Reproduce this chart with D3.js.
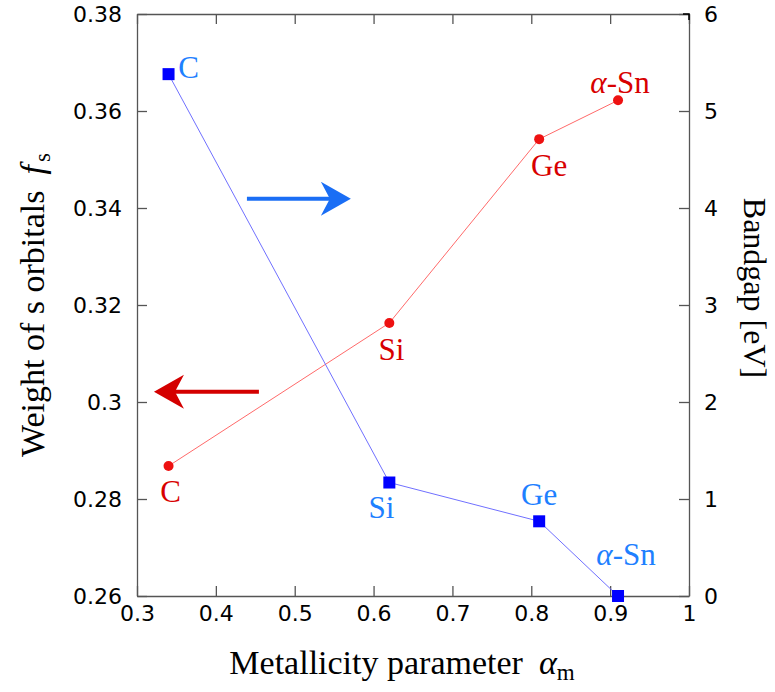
<!DOCTYPE html>
<meta charset="utf-8" />
<html>
<style>
  body { margin: 0; background: #fff; }
  .tick text { font-family: "DejaVu Sans", sans-serif; font-size: 22px; fill: #000; }
  .axis path, .axis line { stroke: #555; stroke-width: 1.3px; }
  .lbl { font-family: "Liberation Serif", "Times New Roman", serif; }
</style>
<body>
<svg width="775" height="692"></svg>
<script src="https://d3js.org/d3.v7.min.js"></script>
<script>
  // materials and their metallicity parameter
  var names = ["C", "Si", "Ge", "\u03b1-Sn"];
  var alphaM = [0.34, 0.62, 0.81, 0.91];
  // weight of s orbitals (left axis)
  var fs = [0.2868, 0.3163, 0.3542, 0.3622];
  // bandgap in eV (right axis)
  var gap = [5.38, 1.17, 0.77, 0.0];

  var xTicks = [0.3, 0.4, 0.5, 0.6, 0.7, 0.8, 0.9, 1];
  var yLeftTicks = [0.26, 0.28, 0.3, 0.32, 0.34, 0.36, 0.38];
  var yRightTicks = [0, 1, 2, 3, 4, 5, 6];

  var svg = d3.select("svg");
  var pL = 137, pR = 689, pT = 14, pB = 596;

  var x = d3.scaleLinear().domain([0.3, 1]).range([pL, pR]);
  var yL = d3.scaleLinear().domain([0.26, 0.38]).range([pB, pT]);
  var yR = d3.scaleLinear().domain([0, 6]).range([pB, pT]);

  // axes, ticks pointing inward
  svg.append("g").attr("class", "axis")
    .attr("transform", "translate(0," + pB + ")")
    .call(d3.axisBottom(x).tickValues(xTicks).tickSize(-10).tickSizeOuter(0).tickPadding(9)
      .tickFormat(function (d) { return d === 1 ? "1" : d3.format(".1f")(d); }));
  svg.append("g").attr("class", "axis")
    .attr("transform", "translate(0," + pT + ")")
    .call(d3.axisTop(x).tickValues(xTicks).tickSize(-10).tickSizeOuter(0).tickFormat(""));
  svg.append("g").attr("class", "axis")
    .attr("transform", "translate(" + pL + ",0)")
    .call(d3.axisLeft(yL).tickValues(yLeftTicks).tickSize(-10).tickSizeOuter(0).tickPadding(15)
      .tickFormat(function (d) { return d === 0.3 ? "0.3" : d3.format(".2f")(d); }));
  svg.append("g").attr("class", "axis")
    .attr("transform", "translate(" + pR + ",0)")
    .call(d3.axisRight(yR).tickValues(yRightTicks).tickSize(-10).tickSizeOuter(0).tickPadding(15)
      .tickFormat(d3.format("d")));
  // dark corner top-right
  svg.append("path").attr("d", "M" + (pR - 6) + "," + pT + "H" + pR + "V" + (pT + 6))
    .attr("fill", "none").attr("stroke", "#000").attr("stroke-width", 1.5);

  // fs series (red)
  var redLine = d3.line().x(function (d, i) { return x(alphaM[i]); }).y(function (d) { return yL(d); });
  svg.append("path").attr("d", redLine(fs)).attr("fill", "none").attr("stroke", "#ff6a6a").attr("stroke-width", 1);
  svg.selectAll(".rdot").data(fs).enter().append("circle")
    .attr("cx", function (d, i) { return x(alphaM[i]); })
    .attr("cy", function (d) { return yL(d); })
    .attr("r", 5).attr("fill", "#ee1111");

  // bandgap series (blue)
  var blueLine = d3.line().x(function (d, i) { return x(alphaM[i]); }).y(function (d) { return yR(d); });
  svg.append("path").attr("d", blueLine(gap)).attr("fill", "none").attr("stroke", "#7070ff").attr("stroke-width", 1);
  svg.selectAll(".bsq").data(gap).enter().append("rect")
    .attr("x", function (d, i) { return x(alphaM[i]) - 6; })
    .attr("y", function (d) { return yR(d) - 6; })
    .attr("width", 12).attr("height", 12).attr("fill", "#0000ff");

  // point labels: pixel offsets from each point
  var redOff = [[2, 36], [2, 37], [10, 37], [2, -7]];
  var blueOff = [[20, 4], [-8, 35], [0, -16], [8, -31]];

  function label(txt, px, py, col) {
    var t = svg.append("text").attr("class", "lbl").attr("x", px).attr("y", py)
      .attr("text-anchor", "middle").attr("font-size", 31).attr("fill", col);
    if (txt.charAt(0) === "\u03b1") {
      t.append("tspan").attr("font-style", "italic").text("\u03b1");
      t.append("tspan").text(txt.slice(1));
    } else t.text(txt);
  }
  names.forEach(function (n, i) {
    label(n, x(alphaM[i]) + redOff[i][0], yL(fs[i]) + redOff[i][1], "#d80000");
    label(n, x(alphaM[i]) + blueOff[i][0], yR(gap[i]) + blueOff[i][1], "#1e80ff");
  });

  // arrows pointing to the axis each series belongs to
  function arrow(x0, x1, yy, col) {
    var dir = x1 > x0 ? 1 : -1;
    var px0 = x(x0), px1 = x(x1), py = yL(yy);
    svg.append("line").attr("x1", px0).attr("y1", py).attr("x2", px1 - dir * 18).attr("y2", py)
      .attr("stroke", col).attr("stroke-width", 4);
    svg.append("path")
      .attr("d", "M" + px1 + "," + py +
        "L" + (px1 - dir * 30) + "," + (py - 17) +
        "L" + (px1 - dir * 21) + "," + py +
        "L" + (px1 - dir * 30) + "," + (py + 17) + "Z")
      .attr("fill", col);
  }
  arrow(0.4394, 0.5712, 0.3419, "#1a6ef5");
  arrow(0.4546, 0.3215, 0.3021, "#d40000");

  // axis titles
  var xt = svg.append("text").attr("class", "lbl").attr("x", 402).attr("y", 674)
    .attr("text-anchor", "middle").attr("font-size", 34).attr("fill", "#000");
  xt.append("tspan").text("Metallicity parameter");
  xt.append("tspan").attr("dx", 16).attr("font-style", "italic").text("\u03b1");
  xt.append("tspan").attr("font-size", 23).attr("dy", 6).text("m");

  var yt = svg.append("text").attr("class", "lbl")
    .attr("transform", "translate(44," + ((pT + pB) / 2) + ") rotate(-90)")
    .attr("text-anchor", "middle").attr("font-size", 34).attr("fill", "#000");
  yt.append("tspan").text("Weight of s orbitals");
  yt.append("tspan").attr("dx", 16).attr("font-style", "italic").text("f");
  yt.append("tspan").attr("font-size", 23).attr("dy", 6).attr("dx", 3).text("s");

  svg.append("text").attr("class", "lbl")
    .attr("transform", "translate(744,288) rotate(90)")
    .attr("text-anchor", "middle").attr("font-size", 32).attr("fill", "#000")
    .text("Bandgap [eV]");
</script>
</body>
</html>
